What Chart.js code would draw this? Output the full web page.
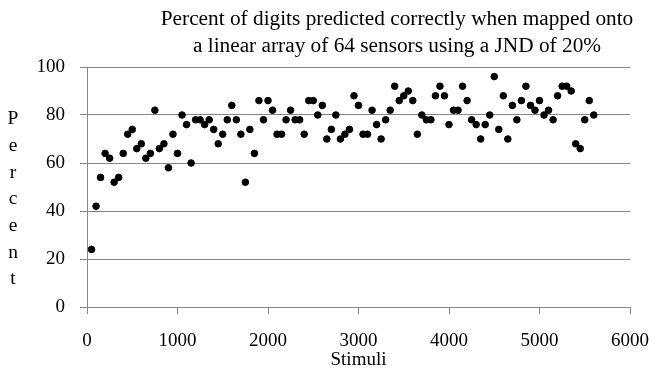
<!DOCTYPE html>
<html>
<head>
<meta charset="utf-8">
<script src="https://cdn.jsdelivr.net/npm/chart.js@4/dist/chart.umd.min.js"></script>
<style>
html,body{margin:0;padding:0;background:#fff;}
#wrap{width:658px;height:377px;position:relative;}
</style>
</head>
<body>
<div id="wrap"><canvas id="c" width="658" height="377"></canvas></div>
<script>
const titleLines = ["Percent of digits predicted correctly when mapped onto", "a linear array of 64 sensors using a JND of 20%"];
const xAxisTitle = "Stimuli";
const yAxisTitle = "Percent";
const stimuli = [50,100,150,200,250,300,350,400,450,500,550,600,650,700,750,800,850,900,950,1000,
1050,1100,1150,1200,1250,1300,1350,1400,1450,1500,1550,1600,1650,1700,1750,1800,1850,1900,1950,2000,
2050,2100,2150,2200,2250,2300,2350,2400,2450,2500,2550,2600,2650,2700,2750,2800,2850,2900,2950,3000,
3050,3100,3150,3200,3250,3300,3350,3400,3450,3500,3550,3600,3650,3700,3750,3800,3850,3900,3950,4000,
4050,4100,4150,4200,4250,4300,4350,4400,4450,4500,4550,4600,4650,4700,4750,4800,4850,4900,4950,5000,
5050,5100,5150,5200,5250,5300,5350,5400,5450,5500,5550,5600];
const percentCorrect = [24,42,54,64,62,52,54,64,72,74,66,68,62,64,82,66,68,58,72,64,
80,76,60,78,78,76,78,74,68,72,78,84,78,72,52,74,64,86,78,86,
82,72,72,78,82,78,78,72,86,86,80,84,70,74,80,70,72,74,88,84,
72,72,82,76,70,78,82,92,86,88,90,86,72,80,78,78,88,92,88,76,
82,82,92,86,78,76,70,76,80,96,74,88,70,84,78,86,92,84,82,86,
80,82,78,88,92,92,90,68,66,78,86,80];
const xTicks = [0,1000,2000,3000,4000,5000,6000];
const yTicks = [0,20,40,60,80,100];

const FONT = "'Liberation Serif', 'Times New Roman', serif";

const textPlugin = {
  id: 'textPlugin',
  afterDraw(chart) {
    const ctx = chart.ctx;
    ctx.save();
    ctx.fillStyle = '#000';
    ctx.textAlign = 'center';
    ctx.textBaseline = 'alphabetic';
    ctx.font = "21.3px " + FONT;
    ctx.fillText(titleLines[0], 397, 25);
    ctx.fillText(titleLines[1], 397, 52);
    ctx.font = "19.5px " + FONT;
    ctx.textBaseline = 'middle';
    const letters = Array.from(yAxisTitle);
    letters.forEach((ch, i) => {
      ctx.fillText(ch, 13, 119 + i * 26.7);
    });
    ctx.restore();
  }
};

const data = {
  datasets: [{
    data: stimuli.map((s, i) => ({x: s, y: percentCorrect[i]})),
    backgroundColor: '#000',
    borderColor: '#000',
    pointRadius: 3.3,
    pointHoverRadius: 3.3,
    showLine: false
  }]
};

new Chart(document.getElementById('c'), {
  type: 'scatter',
  data,
  options: {
    responsive: false,
    animation: false,
    devicePixelRatio: 1,
    layout: {padding: {top: 67, right: 28, left: 0, bottom: 0}},
    plugins: {legend: {display: false}, tooltip: {enabled: false}, title: {display: false}},
    scales: {
      x: {
        type: 'linear',
        min: 0, max: 6000,
        afterBuildTicks(scale) { scale.ticks = xTicks.map(v => ({value: v})); },
        afterFit(scale) { scale.height = 70; scale.paddingLeft = 0; scale.paddingRight = 0; },
        border: {display: true, color: '#868686', width: 1},
        grid: {drawOnChartArea: false, drawTicks: true, tickLength: 7, color: '#868686'},
        ticks: {color: '#000', font: {family: FONT, size: 19}, padding: 16, maxRotation: 0,
          callback: v => String(v)},
        title: {display: true, text: xAxisTitle, color: '#000', font: {family: FONT, size: 19}, padding: {top: 6, bottom: 6}}
      },
      y: {
        type: 'linear',
        min: 0, max: 100,
        afterBuildTicks(scale) { scale.ticks = yTicks.map(v => ({value: v})); },
        afterFit(scale) { scale.width = 87; scale.paddingTop = 0; scale.paddingBottom = 0; },
        border: {display: true, color: '#868686', width: 1},
        grid: {drawOnChartArea: true, drawTicks: true, tickLength: 7, color: '#868686'},
        ticks: {color: '#000', font: {family: FONT, size: 19}, padding: 15, callback: v => String(v)}
      }
    }
  },
  plugins: [textPlugin]
});
</script>
</body>
</html>
